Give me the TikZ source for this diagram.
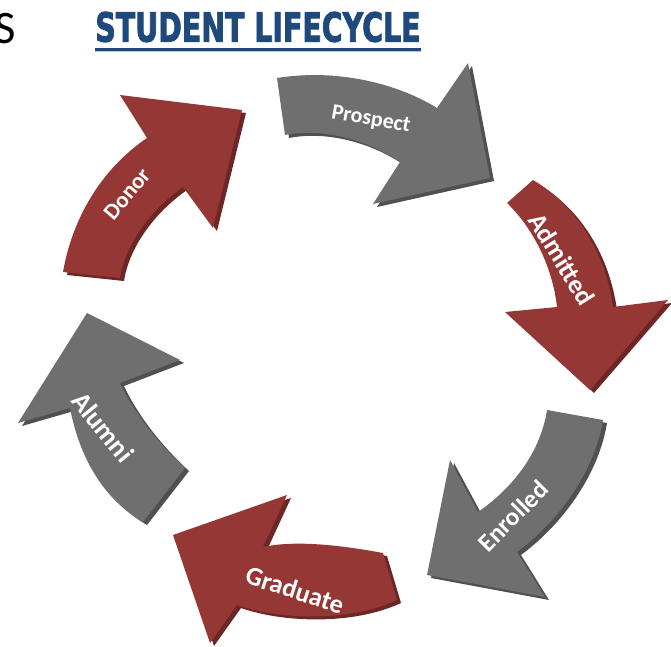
\documentclass[tikz,border=0pt]{standalone}
\usepackage{fontspec}
\setmainfont{Carlito}
\newfontfamily\titlefont[FakeBold=2.5]{DejaVu Sans}
\usepackage{tikz}

\definecolor{lcred}{HTML}{953735}
\definecolor{lcredside}{HTML}{6C2625}
\definecolor{lcgray}{HTML}{6F6F6F}
\definecolor{lcgrayside}{HTML}{505050}
\definecolor{lcblue}{HTML}{1F497D}

\begin{document}
\begin{tikzpicture}[x=0.04cm, y=-0.04cm,
      redarrow/.style={fill=lcred,
        preaction={fill=lcredside, transform canvas={shift={(4,3)}}}},
      grayarrow/.style={fill=lcgray,
        preaction={fill=lcgrayside, transform canvas={shift={(4,3)}}}},
      lbl/.style={text=white, inner sep=0pt,
        font=\bfseries\fontsize{#1}{#1}\selectfont}]
      \useasboundingbox (0,0) rectangle (671,646);

      % heading
      \node[inner sep=0pt, anchor=east, font=\fontsize{53}{60}\selectfont] (cut) at (16,29) {S};
      \node[inner sep=0pt, text=lcblue, font=\titlefont\bfseries] (title) at (258,27)
        {\resizebox{370pt}{34pt}{STUDENT LIFECYCLE}};
      \draw[gray!45, line width=2.5pt] ([yshift=-10pt]title.south west) -- ([yshift=-10pt]title.south east);
      \draw[lcblue, line width=2.5pt] ([yshift=-8pt]title.south west) -- ([yshift=-8pt]title.south east);

      % the six stages
      \fill[grayarrow] (277,78) .. controls (340,68) and (400,85) .. (437,108) -- (468,63)
        -- (490,178) -- (373,204) -- (400,162) .. controls (365,138) and (320,128) .. (285,135) -- cycle;
      \fill[redarrow] (533,180) .. controls (575,205) and (605,250) .. (613,307) -- (668,300)
        -- (590,390) -- (505,312) -- (557,307) .. controls (553,270) and (535,230) .. (507,203) -- cycle;
      \fill[grayarrow] (547,410) -- (603,420) .. controls (595,470) and (560,520) .. (517,552)
        -- (545,597) -- (427,575) -- (450,460) -- (478,512) .. controls (510,490) and (540,455) .. cycle;
      \fill[redarrow] (383,553) .. controls (340,545) and (295,540) .. (263,547) -- (287,495)
        -- (173,535) -- (210,643) -- (237,605) .. controls (280,620) and (350,622) .. (397,600) -- cycle;
      \fill[grayarrow] (185,468) .. controls (160,445) and (135,415) .. (120,383) -- (180,360)
        -- (87,313) -- (18,423) -- (70,408) .. controls (80,460) and (105,500) .. (143,522) -- cycle;
      \fill[redarrow] (63,272) .. controls (72,220) and (100,170) .. (147,138) -- (120,95)
        -- (242,110) -- (213,228) -- (183,187) .. controls (150,210) and (125,245) .. (120,278) -- cycle;

      \node[lbl=25, rotate=-10] (prospect) at (371,120) {Prospect};
      \node[lbl=30, rotate=-58] (admitted) at (562,259) {Admitted};
      \node[lbl=29, rotate=45]  (enrolled) at (513,516) {Enrolled};
      \node[lbl=30, rotate=-18] (graduate) at (295,590) {Graduate};
      \node[lbl=31, rotate=-51] (alumni)   at (103,427) {Alumni};
      \node[lbl=26, rotate=50]  (donor)    at (127,194) {Donor};
    \end{tikzpicture}
\end{document}
